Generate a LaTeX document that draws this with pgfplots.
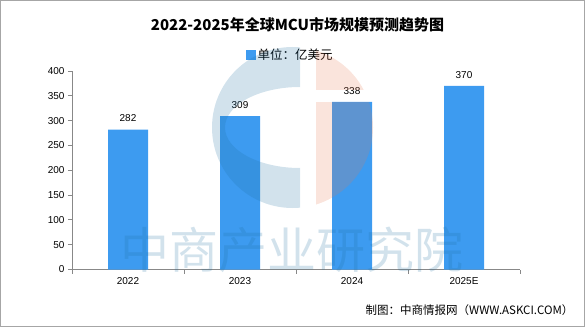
\documentclass[border=0pt]{standalone}
\usepackage{fontspec}
\setmainfont{Liberation Sans}
\newfontfamily\cjk{Noto Sans CJK SC}
\usepackage{pgfplots}
\pgfplotsset{compat=1.18}
\definecolor{barblue}{RGB}{61,155,240}
\definecolor{axgray}{RGB}{136,136,136}
\definecolor{wmblue}{RGB}{30,110,160}
\definecolor{wmpink}{RGB}{230,120,80}
\begin{document}
\begin{tikzpicture}
\path[use as bounding box] (0pt,0pt) rectangle (585pt,327pt);
\begin{axis}[
  at={(72pt,57.5pt)}, anchor=south west,
  scale only axis, width=448pt, height=198.5pt,
  xmin=-0.5, xmax=3.5, ymin=0, ymax=400,
  ytick={0,50,...,400},
  xtick={0,1,2,3}, xticklabels={2022,2023,2024,2025E},
  axis x line*=bottom, axis y line*=left,
  axis line style={axgray, line width=0.8pt, -},
  tick align=outside,
  major tick length=4pt,
  y tick style={axgray, line width=0.8pt},
  x tick style={draw=none},
  extra x ticks={-0.5,0.5,1.5,2.5,3.5}, extra x tick labels={},
  extra x tick style={x tick style={draw=axgray, line width=0.8pt}},
  /pgf/number format/assume math mode=true,
  tick label style={font=\fontsize{10}{12}\selectfont, text=black},
  legend style={at={(0.487,1.08)}, anchor=center, draw=none, fill=none,
    font=\cjk\fontsize{12.5}{14}\selectfont},
]
\addplot[ybar, bar width=40pt, fill=barblue, draw=none,
  nodes near coords,
  nodes near coords style={font=\fontsize{10}{12}\selectfont, text=black, yshift=4pt},
  legend image code/.code={\fill[barblue] (0pt,-5pt) rectangle (10pt,5pt);}]
  coordinates {(0,282) (1,309) (2,338) (3,370)};
\addlegendentry{单位：亿美元}
\end{axis}
% watermark logo
\begin{scope}
  \clip (200pt,0pt) rectangle (300pt,327pt);
  \fill[wmblue, opacity=0.2, even odd rule] (292.5pt,199.5pt) circle (80.5pt) (300pt,199.5pt) ellipse (75pt and 40.5pt);
\end{scope}
\begin{scope}
  \clip (292.5pt,199.5pt) circle (80.5pt);
  \fill[wmpink, opacity=0.2] (316pt,100pt) rectangle (400pt,225pt);
  \fill[wmpink, opacity=0.2] (316pt,237pt) rectangle (400pt,300pt);
\end{scope}
\node[font=\cjk\fontsize{49}{50}\selectfont, text=wmblue, opacity=0.2] at (292pt,77pt) {中商产业研究院};
\node[font=\cjk\bfseries\fontsize{15}{18}\selectfont] at (297.5pt,302pt) {2022-2025年全球MCU市场规模预测趋势图};
\node[anchor=east, font=\cjk\fontsize{11.5}{14}\selectfont] at (577pt,17pt) {制图：中商情报网（WWW.ASKCI.COM）};
\draw[gray!70, line width=1pt] (0.5pt,0.5pt) rectangle (584.5pt,326.5pt);
\end{tikzpicture}
\end{document}
